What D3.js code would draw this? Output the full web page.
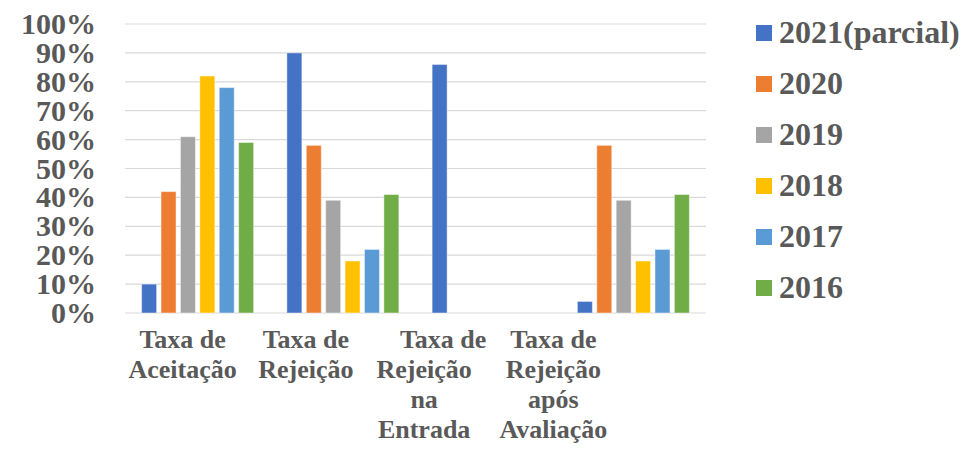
<!DOCTYPE html>
<html>
<head>
<meta charset="utf-8">
<script src="https://cdn.jsdelivr.net/npm/d3@7"></script>
</head>
<body style="margin:0; background:#fff">
<div id="chart"></div>
<script>
// categories (lines of each wrapped label)
const categories = ["Aceitacao", "Rejeicao", "RejeicaoEntrada", "RejeicaoAvaliacao"];
const categoryLabels = [
    ["Taxa de", "Aceitação"],
    ["Taxa de", "Rejeição"],
    ["Taxa de", "Rejeição", "na", "Entrada"],
    ["Taxa de", "Rejeição", "após", "Avaliação"]
];
const seriesNames = ["2021(parcial)", "2020", "2019", "2018", "2017", "2016"];
// values in %, one array per category, ordered like seriesNames
const aceitacao = [10, 42, 61, 82, 78, 59];
const rejeicao = [90, 58, 39, 18, 22, 41];
const rejeicaoEntrada = [86, null, null, null, null, null];
const rejeicaoAvaliacao = [4, 58, 39, 18, 22, 41];
const yTicks = [0, 10, 20, 30, 40, 50, 60, 70, 80, 90, 100];

const colors = ["#4472C4", "#ED7D31", "#A5A5A5", "#FFC000", "#5B9BD5", "#70AD47"];

const values = [aceitacao, rejeicao, rejeicaoEntrada, rejeicaoAvaliacao];

const width = 961, height = 476;
const plot = { left: 125, right: 706, top: 24, bottom: 313 };

// excel shifts the wrapped labels off the group centre
const labelDx = [-15, -37, -64, -80];
const firstLineDx = [0, 0, 19, 0];

const svg = d3.select("#chart")
    .append("svg")
    .attr("width", width)
    .attr("height", height)
    .attr("font-family", "Liberation Serif")
    .attr("font-weight", "bold");

const x0 = d3.scaleBand()
    .domain(categories)
    .range([plot.left, plot.right])
    .paddingInner(0)
    .paddingOuter(0);

const x1 = d3.scaleBand()
    .domain(seriesNames)
    .range([0, x0.bandwidth()])
    .paddingInner(0.227)
    .paddingOuter(0.857);

const y = d3.scaleLinear()
    .domain([0, 100])
    .range([plot.bottom, plot.top]);

// gridlines
svg.append("g")
    .selectAll("line")
    .data(yTicks)
    .join("line")
    .attr("x1", plot.left)
    .attr("x2", plot.right)
    .attr("y1", d => y(d))
    .attr("y2", d => y(d))
    .attr("stroke", "#D9D9D9")
    .attr("stroke-width", 1.2);

// y labels
svg.append("g")
    .selectAll("text")
    .data(yTicks)
    .join("text")
    .attr("x", 96)
    .attr("y", d => y(d) + 10)
    .attr("text-anchor", "end")
    .attr("fill", "#595959")
    .attr("font-size", 30)
    .text(d => d + "%");

// bars
const groups = svg.append("g")
    .selectAll("g")
    .data(categories)
    .join("g")
    .attr("transform", d => `translate(${x0(d)},0)`);

groups.selectAll("rect")
    .data((d, i) => values[i].map((v, j) => ({ name: seriesNames[j], value: v, color: colors[j] })).filter(b => b.value != null))
    .join("rect")
    .attr("x", d => x1(d.name))
    .attr("width", x1.bandwidth())
    .attr("y", d => y(d.value))
    .attr("height", d => y(0) - y(d.value))
    .attr("fill", d => d.color)
    .attr("stroke", "#fff")
    .attr("stroke-opacity", 0.45)
    .attr("stroke-width", 1);

// x labels
const xl = svg.append("g")
    .selectAll("text")
    .data(categories)
    .join("text")
    .attr("text-anchor", "middle")
    .attr("fill", "#595959")
    .attr("font-size", 26);

xl.each(function (d, i) {
    const cx = x0(d) + x0.bandwidth() / 2 + labelDx[i];
    d3.select(this).selectAll("tspan")
        .data(categoryLabels[i])
        .join("tspan")
        .attr("x", (t, k) => cx + (k === 0 ? firstLineDx[i] : 0))
        .attr("y", (t, k) => 348 + k * 30)
        .text(t => t);
});

// legend
const legend = svg.append("g")
    .selectAll("g")
    .data(seriesNames)
    .join("g")
    .attr("transform", (d, i) => `translate(756,${33 + i * 51})`);

legend.append("rect")
    .attr("x", 0)
    .attr("y", -8)
    .attr("width", 16)
    .attr("height", 16)
    .attr("fill", (d, i) => colors[i]);

legend.append("text")
    .attr("x", 23)
    .attr("y", 10)
    .attr("fill", "#595959")
    .attr("font-size", 32)
    .text(d => d);
</script>
</body>
</html>
